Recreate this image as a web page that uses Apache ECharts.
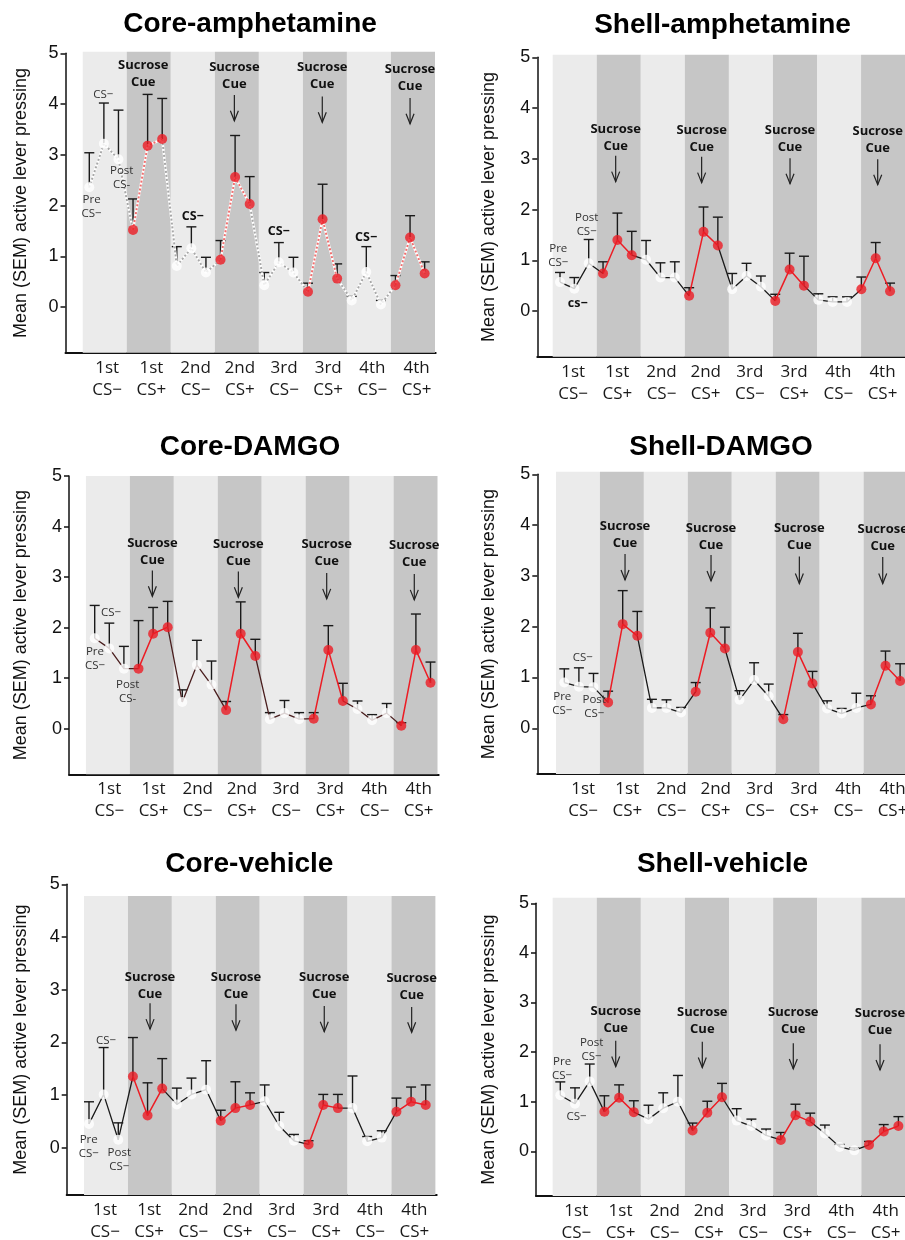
<!DOCTYPE html>
<html>
<head>
<meta charset="utf-8">
<script src="https://cdn.jsdelivr.net/npm/echarts@6/dist/echarts.min.js"></script>
<style>
html, body { margin: 0; padding: 0; background: #fff; }
#chart { width: 905px; height: 1240px; }
</style>
</head>
<body>
<div id="chart"></div>
<script>
// phases along the x axis, three time points (pre / cue / post) in each
const phases = ['1st\nCS−', '1st\nCS+', '2nd\nCS−', '2nd\nCS+', '3rd\nCS−', '3rd\nCS+', '4th\nCS−', '4th\nCS+'];
const yTicks = [0, 1, 2, 3, 4, 5];
const yName = 'Mean (SEM) active lever pressing';
const titles = ['Core-amphetamine', 'Shell-amphetamine', 'Core-DAMGO', 'Shell-DAMGO', 'Core-vehicle', 'Shell-vehicle'];

// means and SEMs, 24 points per panel
const coreAmphMean = [2.36, 3.22, 2.91, 1.52, 3.18, 3.31, 0.81, 1.16, 0.68, 0.93, 2.56, 2.03, 0.43, 0.88, 0.68, 0.30, 1.73, 0.56, 0.13, 0.69, 0.05, 0.43, 1.37, 0.66];
const coreAmphSem  = [0.68, 0.80, 0.97, 0.61, 1.01, 0.80, 0.38, 0.42, 0.30, 0.38, 0.82, 0.54, 0.25, 0.39, 0.30, 0.17, 0.69, 0.29, 0.08, 0.50, 0.08, 0.19, 0.43, 0.23];
const shellAmphMean = [0.57, 0.44, 0.94, 0.74, 1.40, 1.10, 1.01, 0.66, 0.66, 0.30, 1.56, 1.29, 0.43, 0.69, 0.48, 0.20, 0.82, 0.50, 0.22, 0.18, 0.18, 0.43, 1.04, 0.39];
const shellAmphSem  = [0.19, 0.22, 0.47, 0.23, 0.53, 0.47, 0.38, 0.29, 0.31, 0.16, 0.49, 0.56, 0.31, 0.25, 0.21, 0.13, 0.32, 0.58, 0.12, 0.10, 0.10, 0.24, 0.31, 0.16];
const coreDamgoMean = [1.79, 1.59, 1.19, 1.19, 1.88, 2.01, 0.53, 1.26, 0.87, 0.37, 1.88, 1.44, 0.19, 0.31, 0.19, 0.20, 1.56, 0.55, 0.39, 0.17, 0.31, 0.06, 1.56, 0.91];
const coreDamgoSem  = [0.65, 0.50, 0.44, 0.95, 0.52, 0.51, 0.24, 0.49, 0.47, 0.17, 0.63, 0.33, 0.13, 0.25, 0.13, 0.12, 0.48, 0.35, 0.16, 0.11, 0.19, 0.06, 0.71, 0.41];
const shellDamgoMean = [0.90, 0.82, 0.81, 0.51, 2.05, 1.82, 0.40, 0.40, 0.31, 0.72, 1.88, 1.57, 0.56, 0.95, 0.63, 0.18, 1.50, 0.88, 0.39, 0.29, 0.40, 0.47, 1.23, 0.93];
const shellDamgoSem  = [0.27, 0.37, 0.27, 0.22, 0.66, 0.48, 0.17, 0.16, 0.10, 0.18, 0.49, 0.42, 0.18, 0.34, 0.24, 0.09, 0.37, 0.24, 0.15, 0.10, 0.29, 0.17, 0.29, 0.34];
const coreVehMean = [0.45, 1.01, 0.15, 1.35, 0.61, 1.12, 0.82, 1.01, 1.10, 0.51, 0.75, 0.81, 0.88, 0.41, 0.13, 0.06, 0.81, 0.75, 0.75, 0.12, 0.19, 0.68, 0.87, 0.81];
const coreVehSem  = [0.42, 0.89, 0.32, 0.74, 0.62, 0.57, 0.31, 0.31, 0.55, 0.20, 0.50, 0.23, 0.31, 0.26, 0.12, 0.07, 0.20, 0.26, 0.61, 0.09, 0.13, 0.26, 0.28, 0.38];
const shellVehMean = [1.13, 0.96, 1.41, 0.80, 1.08, 0.79, 0.65, 0.87, 1.00, 0.42, 0.78, 1.09, 0.62, 0.51, 0.32, 0.23, 0.73, 0.60, 0.36, 0.09, 0.02, 0.13, 0.40, 0.51];
const shellVehSem  = [0.27, 0.32, 0.35, 0.32, 0.26, 0.23, 0.28, 0.31, 0.53, 0.15, 0.23, 0.28, 0.24, 0.14, 0.13, 0.15, 0.22, 0.17, 0.17, 0.05, 0.05, 0.07, 0.14, 0.19];

// "Sucrose Cue" labels: [x, y of first line, arrow top, arrow tip]
const coreAmphCues  = [[3.7, 4.76, null, null], [9.95, 4.72, 4.18, 3.67], [15.98, 4.72, 4.15, 3.64], [22.0, 4.68, 4.12, 3.61]];
const shellAmphCues = [[3.88, 3.59, 3.06, 2.55], [9.87, 3.57, 3.04, 2.53], [16.03, 3.57, 3.01, 2.51], [22.14, 3.55, 2.99, 2.49]];
const coreDamgoCues = [[3.95, 3.67, 3.13, 2.62], [9.84, 3.64, 3.11, 2.60], [15.89, 3.64, 3.08, 2.57], [21.89, 3.62, 3.06, 2.55]];
const shellDamgoCues = [[4.16, 3.97, 3.43, 2.92], [10.05, 3.93, 3.41, 2.90], [16.1, 3.93, 3.38, 2.85], [21.81, 3.92, 3.37, 2.85]];
const coreVehCues  = [[4.17, 3.24, 2.74, 2.25], [10.04, 3.23, 2.72, 2.23], [16.07, 3.23, 2.69, 2.20], [22.04, 3.21, 2.67, 2.19]];
const shellVehCues = [[3.77, 2.82, 2.23, 1.71], [9.66, 2.80, 2.21, 1.69], [15.85, 2.80, 2.18, 1.66], [21.75, 2.78, 2.16, 1.64]];

// small notes: [x, y, text, bold]
const coreAmphNotes = [[0.96, 4.19, 'CS−', 0], [0.16, 1.97, 'Pre\nCS−', 0], [2.22, 2.55, 'Post\nCS-', 0], [7.09, 1.79, 'CS−', 1], [12.99, 1.49, 'CS−', 1], [18.98, 1.38, 'CS−', 1]];
const shellAmphNotes = [[-0.12, 1.09, 'Pre\nCS−', 0], [1.86, 1.71, 'Post\nCS−', 0], [1.23, 0.15, 'cs−', 1]];
const coreDamgoNotes = [[1.12, 2.29, 'CS−', 0], [0.02, 1.38, 'Pre\nCS−', 0], [2.26, 0.74, 'Post\nCS-', 0]];
const shellDamgoNotes = [[1.26, 1.39, 'CS−', 0], [-0.14, 0.49, 'Pre\nCS−', 0], [2.05, 0.43, 'Post\nCS−', 0]];
const coreVehNotes = [[1.16, 2.03, 'CS−', 0], [-0.02, 0.02, 'Pre\nCS−', 0], [2.07, -0.23, 'Post\nCS−', 0]];
const shellVehNotes = [[0.12, 1.67, 'Pre\nCS−', 0], [2.13, 2.04, 'Post\nCS−', 0], [1.11, 0.69, 'CS−', 0]];

const means = [coreAmphMean, shellAmphMean, coreDamgoMean, shellDamgoMean, coreVehMean, shellVehMean];
const sems = [coreAmphSem, shellAmphSem, coreDamgoSem, shellDamgoSem, coreVehSem, shellVehSem];
const cues = [coreAmphCues, shellAmphCues, coreDamgoCues, shellDamgoCues, coreVehCues, shellVehCues];
const notes = [coreAmphNotes, shellAmphNotes, coreDamgoNotes, shellDamgoNotes, coreVehNotes, shellVehNotes];

// pixel layout of each panel
const layouts = [
  {left: 65.5, right: 435.7, top: 53.3, bottom: 352.7, first: 89.3, step: 14.58, labelX: 107.2, bs: -0.45, bw: 3.02, bandTop: 5.03, nameGap: 35, tx: 250, ty: 24},
  {left: 537.3, right: 905, top: 57.3, bottom: 356.7, first: 560, step: 14.35, labelX: 573.1, bs: -0.51, bw: 3.07, bandTop: 5.05, nameGap: 39, tx: 722.5, ty: 25},
  {left: 69, right: 438.7, top: 476, bottom: 774.3, first: 94.7, step: 14.6, labelX: 109.3, bs: -0.6, bw: 3.01, bandTop: 5.0, nameGap: 39, tx: 250, ty: 447},
  {left: 537.3, right: 905, top: 474.3, bottom: 774, first: 564.3, step: 14.6, labelX: 583.1, bs: -0.57, bw: 3.01, bandTop: 5.05, nameGap: 39, tx: 721, ty: 447},
  {left: 66.7, right: 436.7, top: 884.3, bottom: 1195, first: 89, step: 14.64, labelX: 105, bs: -0.34, bw: 3.0, bandTop: 4.78, nameGap: 36.7, tx: 249.3, ty: 864},
  {left: 536, right: 905, top: 903.3, bottom: 1196, first: 560.3, step: 14.7, labelX: 576.3, bs: -0.52, bw: 3.0, bandTop: 5.11, nameGap: 37.7, tx: 722.5, ty: 864}
];
const labelStep = 44.2;
const yMin = -0.9, yMax = 5;
const RED = '#ec1c24';
const lineColors = ['#b9b9b9', '#1a1a1a', '#4a1e1e', '#1a1a1a', '#1a1a1a', '#1a1a1a'];

const isPlus = i => Math.floor(i / 3) % 2 === 1;

const grid = [], xAxis = [], yAxis = [], series = [], graphic = [];

layouts.forEach((L, p) => {
  const xMin = -(L.first - L.left) / L.step;
  const xMax = (L.right - L.first) / L.step;
  const g = p * 2;
  grid.push({left: L.left, top: L.top, width: L.right - L.left, height: L.bottom - L.top, containLabel: false, outerBoundsMode: 'none'});
  grid.push({left: L.labelX - labelStep / 2, top: L.top, width: labelStep * 8, height: L.bottom - L.top, containLabel: false, outerBoundsMode: 'none'});

  xAxis.push({
    type: 'value', gridIndex: g, min: xMin, max: xMax,
    axisLine: {onZero: false, lineStyle: {color: '#111', width: 2}},
    axisTick: {show: false}, axisLabel: {show: false}, splitLine: {show: false}
  });
  xAxis.push({
    type: 'category', gridIndex: g + 1, data: phases, boundaryGap: true,
    axisLine: {show: false}, axisTick: {show: false}, splitLine: {show: false},
    axisLabel: {fontFamily: 'Open Sans', fontSize: 17, lineHeight: 22, color: '#1a1a1a', margin: 4, interval: 0}
  });
  yAxis.push({
    type: 'value', gridIndex: g, min: yMin, max: yMax,
    name: yName, nameLocation: 'middle', nameGap: L.nameGap,
    nameTextStyle: {fontFamily: 'Liberation Sans', fontSize: 18, color: '#111'},
    axisLine: {show: true, onZero: false, lineStyle: {color: '#111', width: 1.5}},
    axisTick: {show: true, customValues: yTicks, length: 5, lineStyle: {color: '#111', width: 1.5}},
    axisLabel: {customValues: yTicks, fontFamily: 'Liberation Sans', fontSize: 18, color: '#111', margin: 7},
    splitLine: {show: false}
  });
  yAxis.push({type: 'value', gridIndex: g + 1, min: 0, max: 1, show: false});

  graphic.push({
    type: 'text', x: L.tx, y: L.ty,
    style: {text: titles[p], font: 'bold 28px "Liberation Sans"', fill: '#000', align: 'center', verticalAlign: 'middle'}
  });

  const m = means[p], s = sems[p];
  const xi = g, yi = g;

  // shaded phase bands
  series.push({
    type: 'custom', xAxisIndex: xi, yAxisIndex: yi, z: 1, silent: true, clip: false,
    data: phases.map((ph, k) => [k]),
    renderItem: (params, api) => {
      const k = api.value(0);
      const a = api.coord([L.bs + k * L.bw, yMin]);
      const b = api.coord([L.bs + (k + 1) * L.bw, L.bandTop]);
      return {type: 'rect', shape: {x: a[0], y: b[1], width: b[0] - a[0], height: a[1] - b[1]},
        style: {fill: k % 2 ? '#c6c6c6' : '#ebebeb'}};
    }
  });

  // error bars (upper half only)
  series.push({
    type: 'custom', xAxisIndex: xi, yAxisIndex: yi, z: 2, silent: true,
    encode: {x: 0, y: [1, 2]},
    data: m.map((v, i) => [i, v, v + s[i]]),
    renderItem: (params, api) => {
      const p0 = api.coord([api.value(0), api.value(1)]);
      const p1 = api.coord([api.value(0), api.value(2)]);
      const st = {stroke: '#1a1a1a', lineWidth: 1.4};
      return {type: 'group', children: [
        {type: 'line', shape: {x1: p0[0], y1: p0[1], x2: p1[0], y2: p1[1]}, style: st},
        {type: 'line', shape: {x1: p1[0] - 5, y1: p1[1], x2: p1[0] + 5, y2: p1[1]}, style: st}
      ]};
    }
  });

  const blackData = m.map((v, i) => [i, (isPlus(i) && i % 3 === 1) ? null : v]);
  const redData = m.map((v, i) => [i, isPlus(i) ? v : null]);
  if (p === 0) {
    // dotted lines on a white underlay
    series.push({type: 'line', xAxisIndex: xi, yAxisIndex: yi, z: 3, silent: true, symbol: 'none', data: blackData,
      lineStyle: {color: '#fff', width: 2.5}});
    series.push({type: 'line', xAxisIndex: xi, yAxisIndex: yi, z: 3, silent: true, symbol: 'none', data: blackData,
      lineStyle: {color: '#a8a8a8', width: 2, type: [2, 2]}});
    series.push({type: 'line', xAxisIndex: xi, yAxisIndex: yi, z: 3, silent: true, symbol: 'none', data: redData,
      lineStyle: {color: '#fff', width: 2.5}});
    series.push({type: 'line', xAxisIndex: xi, yAxisIndex: yi, z: 3, silent: true, symbol: 'none', data: redData,
      lineStyle: {color: '#f07070', width: 2, type: [2, 2]}});
  } else {
    series.push({type: 'line', xAxisIndex: xi, yAxisIndex: yi, z: 3, silent: true, symbol: 'none', data: blackData,
      lineStyle: {color: lineColors[p], width: 1.3}});
    series.push({type: 'line', xAxisIndex: xi, yAxisIndex: yi, z: 3, silent: true, symbol: 'none', data: redData,
      lineStyle: {color: RED, width: 1.5}});
  }

  // points
  series.push({type: 'scatter', xAxisIndex: xi, yAxisIndex: yi, z: 4, silent: true, symbolSize: 10,
    itemStyle: {color: '#fff'}, data: m.map((v, i) => [i, v]).filter((d, i) => !isPlus(i))});
  series.push({type: 'scatter', xAxisIndex: xi, yAxisIndex: yi, z: 4, silent: true, symbolSize: 10,
    itemStyle: {color: RED}, data: m.map((v, i) => [i, v]).filter((d, i) => isPlus(i))});

  // "Sucrose Cue" labels and arrows
  series.push({
    type: 'custom', xAxisIndex: xi, yAxisIndex: yi, z: 5, silent: true, clip: false,
    data: cues[p].map(c => [c[0], c[1], c[2] == null ? NaN : c[2], c[3] == null ? NaN : c[3]]),
    renderItem: (params, api) => {
      const t = api.coord([api.value(0), api.value(1)]);
      const children = [{type: 'text', style: {text: 'Sucrose\nCue', x: t[0], y: t[1] - 8.5,
        font: 'bold 13px "Open Sans"', fill: '#111', align: 'center', verticalAlign: 'top', lineHeight: 17}}];
      const a = api.value(2), b = api.value(3);
      if (!isNaN(a)) {
        const p0 = api.coord([api.value(0), a]);
        const p1 = api.coord([api.value(0), b]);
        const st = {stroke: '#222', lineWidth: 1.2, fill: null};
        children.push({type: 'line', shape: {x1: p0[0], y1: p0[1], x2: p1[0], y2: p1[1]}, style: st});
        children.push({type: 'polyline', shape: {points: [[p1[0] - 4, p1[1] - 10], [p1[0], p1[1]], [p1[0] + 4, p1[1] - 10]]}, style: st});
      }
      return {type: 'group', children: children};
    }
  });

  // small notes
  series.push({
    type: 'custom', xAxisIndex: xi, yAxisIndex: yi, z: 5, silent: true, clip: false,
    data: notes[p].map(n => [n[0], n[1], n[3]]),
    renderItem: (params, api) => {
      const c = api.coord([api.value(0), api.value(1)]);
      const n = notes[p][params.dataIndex];
      const bold = api.value(2) === 1;
      return {type: 'text', style: {text: n[2], x: c[0], y: c[1],
        font: bold ? 'bold 12.5px "Open Sans"' : '11.5px "Open Sans"',
        fill: bold ? '#111' : '#333', align: 'center', verticalAlign: 'middle', lineHeight: 14}};
    }
  });
});

const chart = echarts.init(document.getElementById('chart'), null, {renderer: 'canvas'});
chart.setOption({
  animation: false,
  backgroundColor: '#fff',
  grid: grid,
  xAxis: xAxis,
  yAxis: yAxis,
  graphic: graphic,
  series: series
});
</script>
</body>
</html>
